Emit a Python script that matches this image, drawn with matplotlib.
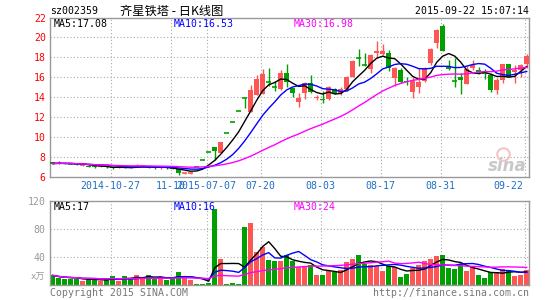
import matplotlib
matplotlib.use("Agg")
import matplotlib.pyplot as plt
import matplotlib.transforms as mtransforms
import numpy as np
import pandas as pd

# daily candles, 80 bars (2014-10 .. 2015-09-22)
opens = [7.50, 7.48, 7.45, 7.42, 7.36, 7.20, 7.18, 7.10, 7.02, 7.08,
         7.00, 6.95, 7.05, 7.05, 7.05, 7.10, 7.05, 7.00, 6.92, 6.98,
         6.95, 6.82, 6.39, 6.39, 7.05, 7.76, 8.53, 9.06, 8.48, 10.45,
         11.50, 12.63, 13.90, 12.56, 14.23, 14.33, 15.60, 15.10, 14.80, 16.46,
         14.90, 13.56, 14.40, 15.47, 13.90, 13.85, 13.80, 14.80, 14.40, 14.80,
         16.06, 17.95, 17.25, 16.80, 18.40, 18.33, 18.45, 15.90, 16.73, 15.60,
         14.50, 15.06, 15.60, 17.40, 19.40, 21.13, 17.05, 15.70, 16.06, 15.33,
         16.90, 16.73, 16.60, 16.23, 14.73, 15.73, 17.30, 16.50, 16.73, 17.30]
highs = [7.55, 7.60, 7.48, 7.45, 7.40, 7.28, 7.22, 7.12, 7.12, 7.10,
         7.05, 7.05, 7.08, 7.10, 7.30, 7.20, 7.08, 7.02, 7.00, 7.00,
         6.98, 6.85, 6.42, 6.42, 7.05, 7.76, 8.53, 9.08, 9.55, 10.45,
         11.50, 12.63, 13.90, 15.23, 16.20, 16.80, 16.90, 15.60, 16.70, 17.30,
         14.95, 14.40, 15.55, 16.23, 14.20, 14.60, 15.10, 14.90, 15.00, 16.10,
         17.70, 18.80, 18.40, 18.30, 19.63, 19.30, 18.75, 17.00, 16.90, 16.06,
         16.00, 16.90, 17.00, 18.90, 20.80, 21.33, 17.73, 17.90, 16.40, 17.10,
         17.73, 17.00, 16.80, 16.40, 15.90, 17.35, 17.35, 17.23, 17.30, 18.30]
lows = [7.35, 7.38, 7.33, 7.30, 7.20, 7.18, 7.00, 6.95, 7.00, 6.95,
        6.80, 6.92, 6.90, 6.95, 7.02, 7.05, 6.92, 6.88, 6.88, 6.88,
        6.80, 6.25, 6.36, 6.36, 7.05, 7.76, 8.53, 7.75, 8.45, 10.45,
        11.50, 12.63, 12.98, 12.50, 14.20, 14.30, 15.10, 14.60, 14.70, 15.06,
        14.00, 13.06, 13.83, 14.40, 13.70, 13.46, 13.75, 14.35, 14.20, 14.60,
        16.00, 17.13, 17.15, 16.40, 17.90, 18.20, 16.65, 15.10, 15.40, 15.23,
        13.90, 14.40, 15.50, 17.20, 18.90, 18.60, 16.73, 15.06, 14.33, 15.30,
        16.70, 16.30, 15.80, 14.56, 14.33, 15.40, 16.00, 15.40, 16.06, 16.90]
closes = [7.38, 7.42, 7.38, 7.36, 7.25, 7.25, 7.05, 7.00, 7.10, 7.00,
          6.90, 7.00, 6.95, 7.00, 7.15, 7.15, 6.98, 6.92, 6.98, 6.92,
          6.85, 6.45, 6.41, 6.41, 7.05, 7.76, 8.53, 8.68, 9.54, 10.45,
          11.50, 12.63, 13.90, 14.73, 15.80, 16.33, 15.55, 15.05, 16.46, 15.56,
          14.46, 13.96, 15.40, 14.57, 14.05, 13.70, 15.00, 14.40, 14.80, 16.06,
          17.63, 17.90, 17.20, 18.23, 18.66, 18.66, 16.95, 16.90, 15.56, 15.50,
          15.60, 15.56, 16.90, 18.80, 20.73, 18.66, 16.85, 15.65, 15.73, 16.83,
          17.23, 16.50, 16.30, 14.73, 15.73, 17.30, 16.06, 16.73, 17.23, 18.13]
# volume, 10k shares
volumes = [14, 11, 9.5, 9.5, 9.5, 6.2, 8.5, 8.5, 6.2, 8.5,
           13.3, 6.2, 13.3, 8.5, 14.8, 11, 14.3, 9.5, 10, 7.6,
           12, 19, 13.3, 7.6, 2.5, 2.5, 3.3, 108, 38, 2.5,
           3.3, 2.4, 82, 89, 47, 55, 36, 34, 34, 43,
           34, 25.7, 25.7, 29, 14.7, 14.7, 20.4, 19.5, 21.9, 33,
           37.6, 43, 30, 29, 27.6, 20.4, 27.6, 25.7, 11.9, 15.7,
           24.3, 29, 34.7, 36.6, 40.9, 42.3, 25.2, 23.3, 30, 20.4,
           26.6, 14.7, 10.9, 18.6, 18.6, 23.3, 21.9, 13.7, 14.7, 21.9]

tick_bars = [10, 20, 26, 35, 45, 55, 65, 79]
tick_labels = ["2014-10-27", "11-10", "2015-07-07", "07-20", "08-03", "08-17", "08-31", "09-22"]
price_ticks = [6, 8, 10, 12, 14, 16, 18, 20, 22]
vol_ticks = [40, 80, 120]

RED = "#ff5555"
GREEN = "#00a000"
GRID = "#aaaaaa"
MONO = "DejaVu Sans Mono"
FS = 7.1

o = np.array(opens)
h = np.array(highs)
l = np.array(lows)
c = np.array(closes)
v = np.array(volumes)
x = np.arange(len(c))
colors = [RED if cc > oo else GREEN for oo, cc in zip(o, c)]

fig = plt.figure(figsize=(5.45, 3.0), dpi=100)
W, H = 545.0, 300.0
ax = fig.add_axes([50 / W, (H - 177.3) / H, 479 / W, 159.8 / H])
axv = fig.add_axes([50 / W, (H - 285.3) / H, 479 / W, 84.6 / H])

for a in (ax, axv):
    a.set_xlim(-0.45, 79.38)
    for s in a.spines.values():
        s.set_color("#999999")
        s.set_linewidth(1)
    a.tick_params(length=0, pad=3)
    a.set_xticks([])
    for t in tick_bars:
        a.axvline(t - 0.33, color=GRID, lw=0.8, ls=(0, (1, 2)), zorder=0)

# price panel
ax.set_ylim(6, 22)
ax.set_yticks(price_ticks)
ax.set_yticklabels([str(p) for p in price_ticks], color="red", fontsize=FS, family=MONO)
for p in price_ticks[1:-1]:
    ax.axhline(p, color=GRID, lw=0.8, ls=(0, (1, 2)), zorder=0)

# sina watermark (behind the candles)
ax.plot([0.945], [0.145], transform=ax.transAxes, marker="o", markersize=9, markerfacecolor="none",
        markeredgecolor="#f4c4c4", markeredgewidth=1.5, zorder=1)
ax.text(0.955, 0.07, "sina", transform=ax.transAxes, fontsize=12, weight="bold", style="italic",
        va="center", ha="center", color="#c8c8c8", zorder=1)

ax.vlines(x, l, h, colors=colors, lw=1, zorder=2)
body = np.abs(c - o)
flat = body < 0.06
ax.bar(x[~flat], body[~flat], bottom=np.minimum(o, c)[~flat], width=0.8,
       color=np.array(colors)[~flat], zorder=3)
ax.hlines(c[flat], x[flat] - 0.4, x[flat] + 0.4, colors=np.array(colors)[flat], lw=1.2, zorder=3)

cs = pd.Series(c)
ax.plot(x, cs.rolling(5, min_periods=1).mean(), color="black", lw=1, zorder=4)
ax.plot(x, cs.rolling(10, min_periods=1).mean(), color="#0000ff", lw=1, zorder=4)
ax.plot(x, cs.rolling(30, min_periods=1).mean(), color="#ff00ff", lw=1, zorder=4)

# date labels between panels
trans = mtransforms.blended_transform_factory(ax.transData, ax.transAxes)
for t, lab in zip(tick_bars, tick_labels):
    if t == tick_bars[-1]:
        ax.text(t - 0.55, -0.052, lab, transform=trans, ha="right", va="center",
                color="#1e6ec8", fontsize=FS, family=MONO)
    else:
        ax.text(t - 0.33, -0.052, lab, transform=trans, ha="center", va="center",
                color="#1e6ec8", fontsize=FS, family=MONO)

# volume panel
axv.set_ylim(0, 120)
axv.set_yticks(vol_ticks)
axv.set_yticklabels([str(t) for t in vol_ticks], color="#999999", fontsize=FS, family=MONO)
for t in vol_ticks[:-1]:
    axv.axhline(t, color=GRID, lw=0.8, ls=(0, (1, 2)), zorder=0)
axv.bar(x, v, width=0.88, color=colors, zorder=2)
vs = pd.Series(v)
axv.plot(x, vs.rolling(5, min_periods=1).mean(), color="black", lw=1, zorder=4)
axv.plot(x, vs.rolling(10, min_periods=1).mean(), color="#0000ff", lw=1, zorder=4)
axv.plot(x, vs.rolling(30, min_periods=1).mean(), color="#ff00ff", lw=1, zorder=4)


def ftext(px, py, s, **kw):
    fig.text(px / W, 1 - py / H, s, **kw)


ftext(50, 11.5, "sz002359", fontsize=FS, family=MONO, va="center")
ftext(120, 11, "齐星铁塔 - 日K线图", fontsize=8.8, family=["Noto Sans CJK SC", "DejaVu Sans"], va="center")
ftext(529, 11.5, "2015-09-22 15:07:14", fontsize=FS, family=MONO, va="center", ha="right")

ftext(54, 24, "MA5:17.08", fontsize=FS, family=MONO, va="center", color="black")
ftext(174, 24, "MA10:16.53", fontsize=FS, family=MONO, va="center", color="#0000ff")
ftext(294, 24, "MA30:16.98", fontsize=FS, family=MONO, va="center", color="#ff00ff")
ftext(54, 207, "MA5:17", fontsize=FS, family=MONO, va="center", color="black")
ftext(174, 207, "MA10:16", fontsize=FS, family=MONO, va="center", color="#0000ff")
ftext(294, 207, "MA30:24", fontsize=FS, family=MONO, va="center", color="#ff00ff")

ftext(45, 277, "x万", fontsize=6.5, family=[MONO, "Noto Sans CJK SC"], va="center", ha="right", color="#999999")
ftext(50, 293, "Copyright 2015 SINA.COM", fontsize=FS, family=MONO, va="center", color="#777777")
ftext(529, 293, "http://finance.sina.com.cn", fontsize=FS, family=MONO, va="center", ha="right", color="#777777")

fig.savefig("out.png", dpi=100)
